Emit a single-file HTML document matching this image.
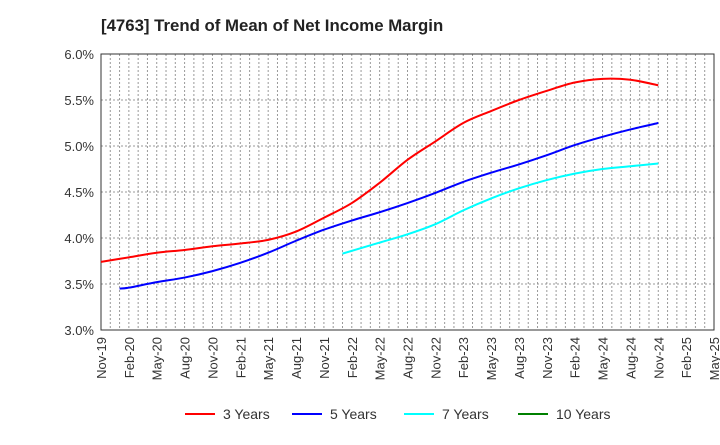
<!DOCTYPE html>
<html><head><meta charset="utf-8"><style>
body{margin:0;background:#fff;font-family:"Liberation Sans",sans-serif}
</style></head><body>
<svg id="chart" width="720" height="440" xmlns="http://www.w3.org/2000/svg" font-family="Liberation Sans, sans-serif">
<text x="101" y="31" font-size="16.8" font-weight="bold" fill="#222">[4763]  Trend of Mean of Net Income Margin</text>
<g id="grid"></g>
<g id="axes"></g>
<g id="series"></g>
<g id="legend"></g>
</svg>
<script>
const xLabels=["Nov-19","Feb-20","May-20","Aug-20","Nov-20","Feb-21","May-21","Aug-21","Nov-21","Feb-22","May-22","Aug-22","Nov-22","Feb-23","May-23","Aug-23","Nov-23","Feb-24","May-24","Aug-24","Nov-24","Feb-25","May-25"];
const yTicks=[3.0,3.5,4.0,4.5,5.0,5.5,6.0];
const red3yIdx=[0,3,6,9,12,15,18,21,24,27,30,33,36,39,42,45,48,51,54,57,60];
const red3y=[3.74,3.79,3.84,3.87,3.91,3.94,3.98,4.07,4.22,4.38,4.60,4.85,5.05,5.25,5.38,5.50,5.60,5.69,5.73,5.72,5.66];
const blue5yIdx=[2,3,6,9,12,15,18,21,24,27,30,33,36,39,42,45,48,51,54,57,60];
const blue5y=[3.45,3.46,3.52,3.57,3.64,3.73,3.84,3.97,4.09,4.19,4.28,4.38,4.49,4.61,4.71,4.80,4.90,5.01,5.10,5.18,5.25];
const cyan7yIdx=[26,30,33,36,39,42,45,48,51,54,57,60];
const cyan7y=[3.83,3.95,4.04,4.15,4.30,4.43,4.54,4.63,4.70,4.75,4.78,4.81];
const green10yIdx=[];
const green10y=[];
const seriesNames=["3 Years","5 Years","7 Years","10 Years"];
const seriesColors=["#ff0000","#0000ff","#00ffff","#008000"];

const L=101,R=714,T=54,B=330,NM=66;
const x=i=>L+i*(R-L)/NM;
const y=v=>B-(v-3)*(B-T)/3;
const NS="http://www.w3.org/2000/svg";
function mk(tag,attrs,parent){const e=document.createElementNS(NS,tag);for(const k in attrs)e.setAttribute(k,attrs[k]);parent.appendChild(e);return e;}
const grid=document.getElementById('grid'),axes=document.getElementById('axes'),series=document.getElementById('series'),legend=document.getElementById('legend');
for(let i=1;i<NM;i++){const l=mk('line',{x1:x(i),x2:x(i),y1:T,y2:B,stroke:'#999','stroke-dasharray':'2,2','stroke-width':1},grid);

}
yTicks.forEach(v=>{if(v>3&&v<6){const l=mk('line',{x1:L,x2:R,y1:y(v),y2:y(v),stroke:'#999','stroke-dasharray':'2,2'},grid);

}
const t=mk('text',{x:L-7,y:y(v)+5,'text-anchor':'end','font-size':13,fill:'#333'},axes);t.textContent=v.toFixed(1)+'%';

});
const fr=mk('rect',{x:L,y:T,width:R-L,height:B-T,fill:'none',stroke:'#333','stroke-width':1},axes);


xLabels.forEach((s,k)=>{const px=x(k*3);const t=mk('text',{x:0,y:0,'text-anchor':'end','font-size':13,fill:'#333',transform:`translate(${px+5},${B+7}) rotate(-90)`},axes);t.textContent=s;

});
function path(idx,vals){if(!idx.length)return '';const p=idx.map((i,k)=>[x(i),y(vals[k])]);let d=`M${p[0][0]},${p[0][1]}`;
for(let k=0;k<p.length-1;k++){const p0=p[k-1]||p[k],p1=p[k],p2=p[k+1],p3=p[k+2]||p2;
d+=` C${p1[0]+(p2[0]-p0[0])/6},${p1[1]+(p2[1]-p0[1])/6} ${p2[0]-(p3[0]-p1[0])/6},${p2[1]-(p3[1]-p1[1])/6} ${p2[0]},${p2[1]}`;}return d;}
const all=[[red3yIdx,red3y],[blue5yIdx,blue5y],[cyan7yIdx,cyan7y],[green10yIdx,green10y]];
all.forEach((s,n)=>{if(!s[0].length)return;const e=mk('path',{d:path(s[0],s[1]),fill:'none',stroke:seriesColors[n],'stroke-width':2},series);

});
const lx=[185,292,404,518];
seriesNames.forEach((nm,n)=>{const g=mk('g',{},legend);


mk('line',{x1:lx[n],x2:lx[n]+30,y1:414,y2:414,stroke:seriesColors[n],'stroke-width':2},g);
const t=mk('text',{x:lx[n]+38,y:419,'font-size':14,fill:'#333'},g);t.textContent=nm;});
</script>
</body></html>
